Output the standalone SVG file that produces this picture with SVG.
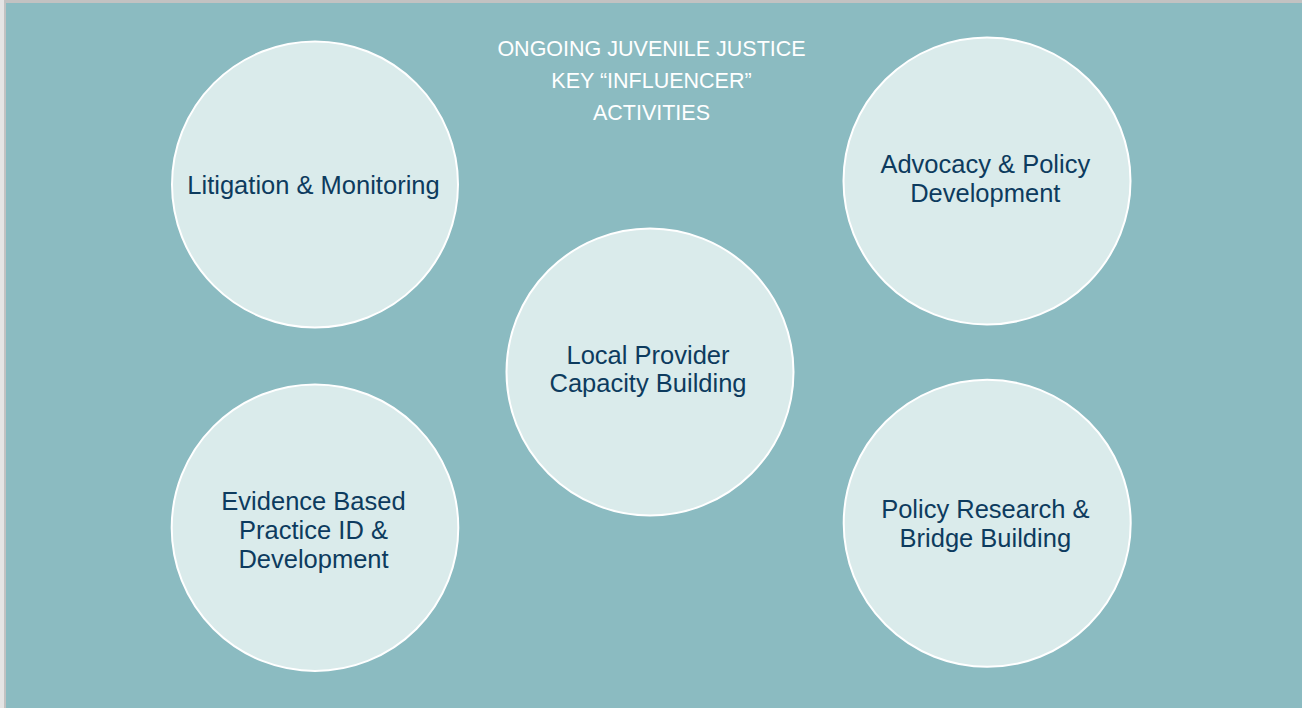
<svg xmlns="http://www.w3.org/2000/svg" width="1302" height="708" viewBox="0 0 1302 708">
  <style>
    .node circle { fill: #DAEBEB; stroke: #FFFFFF; stroke-width: 2; }
    .label { font-family: "Liberation Sans", Arial, sans-serif; font-size: 25.5px; fill: #0D3B5E; text-anchor: middle; }
    .title { font-family: "Liberation Sans", Arial, sans-serif; font-size: 21.5px; fill: #FFFFFF; text-anchor: middle; }
  </style>
  <rect x="0" y="0" width="1302" height="708" fill="#E4E4E4"/>
  <rect x="4" y="0" width="1298" height="708" fill="#C2C2C2"/>
  <rect x="6" y="3" width="1296" height="705" fill="#8BBBC1"/>
  <g id="title">
    <text class="title" x="651.5" y="55.7">ONGOING JUVENILE JUSTICE</text>
    <text class="title" x="651.5" y="88.3">KEY “INFLUENCER”</text>
    <text class="title" x="651.5" y="120">ACTIVITIES</text>
  </g>
  <g id="connectors"></g>
  <g id="node-litigation" class="node">
    <circle cx="315" cy="184.5" r="143"/>
    <text class="label" x="313.5" y="194.3">Litigation &amp; Monitoring</text>
  </g>
  <g id="node-advocacy" class="node">
    <circle cx="987" cy="181" r="143.5"/>
    <text class="label" x="985.3" y="173.3">Advocacy &amp; Policy</text>
    <text class="label" x="985.3" y="201.7">Development</text>
  </g>
  <g id="node-local" class="node">
    <circle cx="650" cy="372" r="143.5"/>
    <text class="label" x="648" y="364">Local Provider</text>
    <text class="label" x="648" y="392.3">Capacity Building</text>
  </g>
  <g id="node-evidence" class="node">
    <circle cx="315" cy="527.7" r="143.3"/>
    <text class="label" x="313.5" y="510">Evidence Based</text>
    <text class="label" x="313.5" y="539.3">Practice ID &amp;</text>
    <text class="label" x="313.5" y="568.3">Development</text>
  </g>
  <g id="node-research" class="node">
    <circle cx="987.2" cy="523.3" r="143.5"/>
    <text class="label" x="985.3" y="517.7">Policy Research &amp;</text>
    <text class="label" x="985.3" y="546.7">Bridge Building</text>
  </g>
</svg>
